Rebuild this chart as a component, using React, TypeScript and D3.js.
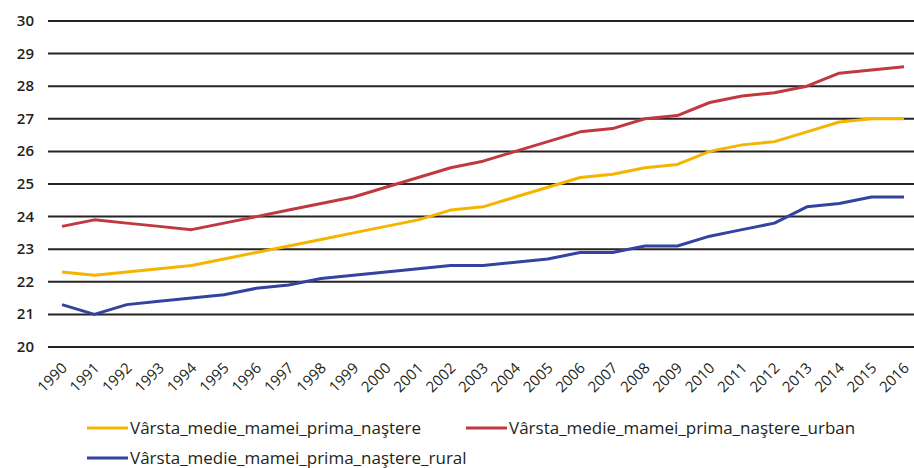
import React from "react";
import * as d3 from "d3";

const years = d3.range(1990, 2017).map(String);
const seriesNames = [
  "Vârsta_medie_mamei_prima_naştere",
  "Vârsta_medie_mamei_prima_naştere_urban",
  "Vârsta_medie_mamei_prima_naştere_rural",
];
const totalValues = [22.3, 22.2, 22.3, 22.4, 22.5, 22.7, 22.9, 23.1, 23.3, 23.5, 23.7, 23.9, 24.2, 24.3, 24.6, 24.9, 25.2, 25.3, 25.5, 25.6, 26.0, 26.2, 26.3, 26.6, 26.9, 27.0, 27.0];
const urbanValues = [23.7, 23.9, 23.8, 23.7, 23.6, 23.8, 24.0, 24.2, 24.4, 24.6, 24.9, 25.2, 25.5, 25.7, 26.0, 26.3, 26.6, 26.7, 27.0, 27.1, 27.5, 27.7, 27.8, 28.0, 28.4, 28.5, 28.6];
const ruralValues = [21.3, 21.0, 21.3, 21.4, 21.5, 21.6, 21.8, 21.9, 22.1, 22.2, 22.3, 22.4, 22.5, 22.5, 22.6, 22.7, 22.9, 22.9, 23.1, 23.1, 23.4, 23.6, 23.8, 24.3, 24.4, 24.6, 24.6];
const yTicks = [20, 21, 22, 23, 24, 25, 26, 27, 28, 29, 30];
const colors = ["#F5B400", "#C0393F", "#3442A0"];

const W = 914;
const H = 468;
const FONT = "'Open Sans', 'DejaVu Sans', sans-serif";

export default function App() {
  const x = d3.scalePoint<string>().domain(years).range([62, 904]);
  const y = d3.scaleLinear().domain([20, 30]).range([347, 21]);
  const line = d3
    .line<number>()
    .x((_, i) => x(years[i]) as number)
    .y((d) => y(d));
  const all = [totalValues, urbanValues, ruralValues];
  const legend = [
    { x: 87, y: 428 },
    { x: 466, y: 428 },
    { x: 87, y: 458 },
  ];
  return (
    <svg
      width={W}
      height={H}
      style={{ position: "absolute", left: 0, top: 0, background: "#fff" }}
      fontFamily={FONT}
    >
      {yTicks.map((t) => (
        <g key={t}>
          <line x1={48} x2={W} y1={y(t)} y2={y(t)} stroke="#262324" strokeWidth={2} />
          <text x={34} y={y(t) + 5} textAnchor="end" fontSize={15} fontWeight={600} fill="#231f20">
            {t}
          </text>
        </g>
      ))}
      {all.map((vals, i) => (
        <path key={i} d={line(vals) || ""} fill="none" stroke={colors[i]} strokeWidth={3} strokeLinejoin="round" />
      ))}
      {years.map((yr) => (
        <text
          key={yr}
          transform={`translate(${(x(yr) as number) + 6},${369}) rotate(-45)`}
          textAnchor="end"
          fontSize={15}
          fontWeight={500}
          fill="#231f20"
        >
          {yr}
        </text>
      ))}
      {seriesNames.map((n, i) => (
        <g key={n}>
          <line x1={legend[i].x} x2={legend[i].x + 41} y1={legend[i].y} y2={legend[i].y} stroke={colors[i]} strokeWidth={3} />
          <text x={legend[i].x + 43} y={legend[i].y + 6} fontSize={17} fill="#231f20">
            {n}
          </text>
        </g>
      ))}
    </svg>
  );
}
